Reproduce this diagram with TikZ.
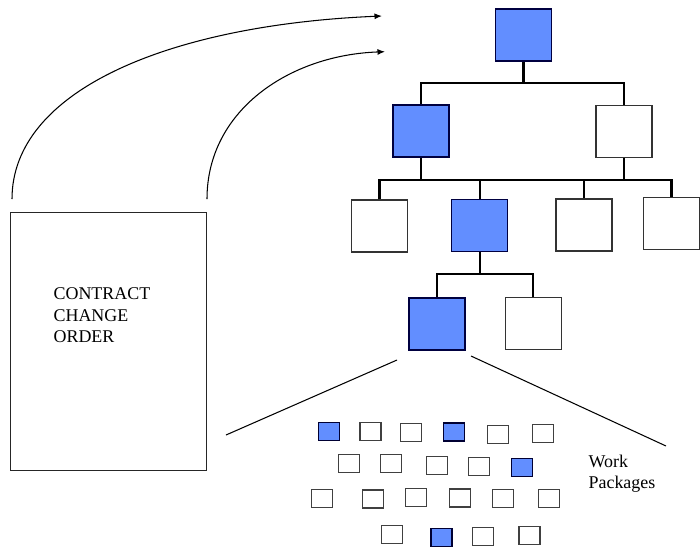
\documentclass[tikz,border=0pt]{standalone}
\usepackage{fontspec}
\setmainfont{Liberation Serif}
\usetikzlibrary{arrows.meta}

\definecolor{wbsblue}{RGB}{98,142,255}

\begin{document}
\begin{tikzpicture}[
  x=0.02cm, y=-0.02cm,
  font=\fontsize{10.2}{12.1}\selectfont,
  pkg/.style={draw=black!80, line width=0.6pt, fill=white, minimum width=1.12cm,
              minimum height=1.04cm, inner sep=0pt},
  pkgon/.style={pkg, fill=wbsblue, draw=black!75!blue},
  wp/.style={draw=black!75, line width=0.6pt, fill=white, minimum width=0.42cm,
             minimum height=0.36cm, inner sep=0pt},
  wpon/.style={wp, fill=wbsblue, draw=black!80!blue},
  doc/.style={draw=black!85, line width=0.6pt, minimum width=3.92cm,
              minimum height=5.17cm, inner sep=0pt},
  lbl/.style={inner sep=0pt, align=left},
  conn/.style={line width=1.3pt, draw=black},
  fan/.style={line width=0.6pt, draw=black},
  a/.style={-{Latex[length=1.5mm, width=1.2mm]}, line width=0.6pt, draw=black}
]
\useasboundingbox (0,0) rectangle (700,552);

% change order document
\node[doc] (cco) at (108.7,341.7) {};
\node[lbl, anchor=base west] (ccotxt) at (53.3,342.3) {CONTRACT\\CHANGE\\ORDER};

\coordinate (s1) at (12,199);
\coordinate (s2) at (207,199);
\coordinate (e1) at (382,16);
\coordinate (e2) at (385,51.7);
\draw[a] (s1) .. controls (12,90) and (170,25) .. (e1);
\draw[a] (s2) .. controls (207,110) and (290,55) .. (e2);

% WBS tree
\node[pkgon] (top) at (523.5,35)    {};
\node[pkgon] (l2a) at (421,131)     {};
\node[pkg]   (l2b) at (624,131.5)   {};
\node[pkg]   (l3a) at (379.5,226)   {};
\node[pkgon] (l3b) at (479.7,225.3) {};
\node[pkg]   (l3c) at (584,225)     {};
\node[pkg]   (l3d) at (671.5,223.5) {};
\node[pkgon] (l4a) at (437,324)     {};
\node[pkg]   (l4b) at (533.3,323.3) {};

\coordinate (bar1) at (0,83);
\coordinate (bar2) at (0,180);
\coordinate (bar3) at (0,274);

\draw[conn] (top.south) -- (top.south |- bar1);
\draw[conn] (l2a.north) |- (l2b.north |- bar1) -- (l2b.north);

\draw[conn] (l2a.south) -- (l2a.south |- bar2);
\draw[conn] (l2b.south) -- (l2b.south |- bar2);
\draw[conn] (l3a.north) |- (l3d.north |- bar2) -- (l3d.north);
\draw[conn] (l3b.north) -- (l3b.north |- bar2);
\draw[conn] (l3c.north) -- (l3c.north |- bar2);

\draw[conn] (l3b.south) -- (l3b.south |- bar3);
\draw[conn] (l4a.north) |- (l4b.north |- bar3) -- (l4b.north);

% zoom out to the work packages
\coordinate (f1) at (397,360);
\coordinate (f2) at (226,435);
\coordinate (f3) at (471,356);
\coordinate (f4) at (666,446);
\draw[fan] (f1) -- (f2);
\draw[fan] (f3) -- (f4);

% work packages
\node[wpon] (wp1)  at (329,431.7)   {};
\node[wp]   (wp2)  at (370.5,431.2) {};
\node[wp]   (wp3)  at (410.7,432.3) {};
\node[wpon] (wp4)  at (454,432)     {};
\node[wp]   (wp5)  at (498,434.3)   {};
\node[wp]   (wp6)  at (543,433.5)   {};

\node[wp]   (wp7)  at (349,463.7)   {};
\node[wp]   (wp8)  at (390.7,463.7) {};
\node[wp]   (wp9)  at (437,465.5)   {};
\node[wp]   (wp10) at (479,466.2)   {};
\node[wpon] (wp11) at (521.7,467.8) {};

\node[wp]   (wp12) at (321.7,498.2) {};
\node[wp]   (wp13) at (372.7,499)   {};
\node[wp]   (wp14) at (416,497.3)   {};
\node[wp]   (wp15) at (460,498)     {};
\node[wp]   (wp16) at (503,498.3)   {};
\node[wp]   (wp17) at (549,498.3)   {};

\node[wp]   (wp18) at (392,534.7)   {};
\node[wpon] (wp19) at (441.5,537.8) {};
\node[wp]   (wp20) at (483,536.5)   {};
\node[wp]   (wp21) at (529.5,535.8) {};

\node[lbl, anchor=base west] (wptxt) at (588.3,488.3) {Work\\Packages};
\end{tikzpicture}
\end{document}
